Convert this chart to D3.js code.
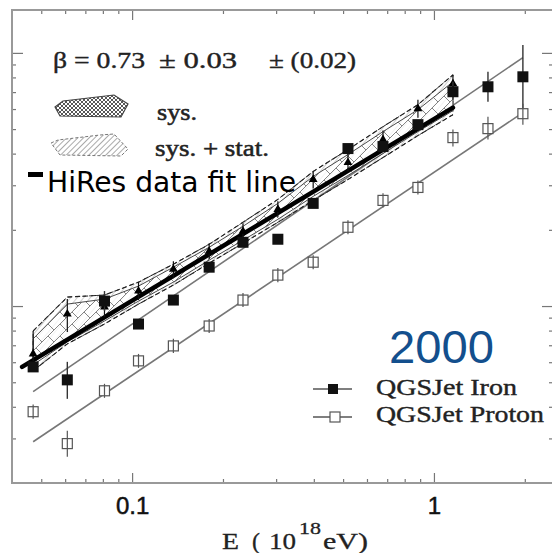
<!DOCTYPE html>
<html>
<head>
<meta charset="utf-8">
<script src="https://cdn.jsdelivr.net/npm/d3@7"></script>
<style>
body { margin: 0; background: #fff; }
svg { display: block; }
</style>
</head>
<body>
<svg id="chart"></svg>
<script>
var width = 552,
    height = 553;

// E (10^18 eV) of the simulated showers
var energy = [0.047, 0.061, 0.081, 0.105, 0.137, 0.180, 0.233, 0.304, 0.398, 0.519, 0.678, 0.885, 1.156, 1.510, 1.971];

var iron   = [0.575, 0.511, 1.046, 0.849, 1.056, 1.424, 1.786, 1.836, 2.544, 4.188, 4.266, 5.206, 7.023, 7.347, 8.045],
    ironLo = [0.575, 0.430, 0.956, 0.849, 1.056, 1.424, 1.786, 1.836, 2.544, 4.188, 4.266, 5.206, 6.531, 6.412, 6.0],
    ironHi = [0.575, 0.602, 1.146, 0.849, 1.056, 1.424, 1.786, 1.836, 2.544, 4.188, 4.266, 5.206, 7.688, 8.418, 10.75];

var proton   = [0.3825, 0.2862, 0.4627, 0.6074, 0.6959, 0.834, 1.056, 1.325, 1.490, 2.047, 2.614, 2.941, 4.628, 5.022, 5.752],
    protonLo = [0.359, 0.254, 0.434, 0.570, 0.653, 0.782, 0.991, 1.243, 1.398, 1.920, 2.452, 2.759, 4.266, 4.545, 5.206],
    protonHi = [0.408, 0.322, 0.493, 0.647, 0.742, 0.889, 1.126, 1.412, 1.588, 2.182, 2.787, 3.135, 4.977, 5.598, 6.3];

// straight fits through the model points
var lineE     = [0.047, 1.971],
    ironFit   = [0.459, 9.58],
    protonFit = [0.291, 5.81];

// HiRes data
var hiresE  = [0.047, 0.061, 0.081, 0.105, 0.137, 0.180, 0.233, 0.304, 0.398, 0.519, 0.678, 0.885, 1.156],
    hires   = [0.647, 0.930, 0.991, 1.146, 1.398, 1.646, 1.974, 2.410, 3.162, 3.689, 4.545, 6.019, 7.551],
    hiresLo = [0.607, 0.790, 0.905, 1.056, 1.289, 1.531, 1.836, 2.241, 2.915, 3.401, 4.188, 5.547, 6.897],
    hiresHi = [0.797, 1.065, 1.085, 1.243, 1.504, 1.770, 2.122, 2.591, 3.401, 4.004, 4.932, 6.531, 8.19];

var fitE = [0.0432, 1.156],
    fitV = [0.575, 6.08];

// sys + stat band and sys band
var bandHi = [0.797, 1.085, 1.105, 1.243, 1.463, 1.754, 2.142, 2.638, 3.401, 4.151, 5.112, 6.242, 8.19],
    bandLo = [0.555, 0.709, 0.849, 1.018, 1.210, 1.477, 1.770, 2.142, 2.614, 3.162, 3.861, 4.713, 5.700],
    sysHi  = [0.742, 1.018, 1.065, 1.199, 1.424, 1.707, 2.065, 2.544, 3.250, 3.967, 4.887, 5.965, 7.688],
    sysLo  = [0.586, 0.722, 0.873, 1.046, 1.243, 1.518, 1.819, 2.200, 2.711, 3.280, 4.004, 4.887, 5.911];

var xMajor = [0.1, 1],
    xMinor = [0.05, 0.06, 0.07, 0.08, 0.09, 0.2, 0.3, 0.4, 0.5, 0.6, 0.7, 0.8, 0.9, 2],
    yMajor = [1, 10],
    yMinor = [0.3, 0.4, 0.5, 0.6, 0.7, 0.8, 0.9, 2, 3, 4, 5, 6, 7, 8, 9];

var pLeft = 12, pRight = 553, pTop = 10, pBottom = 483;

var x = d3.scaleLog().domain([0.04, 2.48]).range([pLeft, pRight]),
    y = d3.scaleLog().domain([0.2, 14.77]).range([pBottom, pTop]);

var svg = d3.select("#chart").attr("width", width).attr("height", height);

var defs = svg.append("defs");
defs.append("pattern")
    .attr("id", "hatch")
    .attr("patternUnits", "userSpaceOnUse")
    .attr("width", 4).attr("height", 4)
    .attr("patternTransform", "rotate(45)")
  .append("line")
    .attr("x1", 0).attr("y1", 0).attr("x2", 0).attr("y2", 4)
    .attr("stroke", "#555").attr("stroke-width", 1);

defs.append("pattern")
    .attr("id", "hatchLight")
    .attr("patternUnits", "userSpaceOnUse")
    .attr("width", 5).attr("height", 5)
    .attr("patternTransform", "rotate(40)")
  .append("line")
    .attr("x1", 0).attr("y1", 0).attr("x2", 0).attr("y2", 5)
    .attr("stroke", "#777").attr("stroke-width", 0.7);

var cross = defs.append("pattern")
    .attr("id", "cross")
    .attr("patternUnits", "userSpaceOnUse")
    .attr("width", 4).attr("height", 4);
cross.append("path").attr("d", "M0,0L4,4M4,0L0,4")
    .attr("stroke", "#444").attr("stroke-width", 0.9);

var crossLight = defs.append("pattern")
    .attr("id", "crossLight")
    .attr("patternUnits", "userSpaceOnUse")
    .attr("width", 12).attr("height", 12);
crossLight.append("path").attr("d", "M0,12L12,0M0,0L6,6")
    .attr("stroke", "#666").attr("stroke-width", 0.8);

// ---- axes (ticks on all four sides, pointing inward)
function styleAxis(g) {
    g.select(".domain").remove();
    g.selectAll(".tick line").attr("stroke", "#777").attr("stroke-width", 1.2);
}

svg.append("g").attr("transform", "translate(0," + pBottom + ")")
    .call(d3.axisBottom(x).tickValues(xMinor).tickSize(-4).tickFormat(""))
    .call(styleAxis);
svg.append("g").attr("transform", "translate(0," + pBottom + ")")
    .call(d3.axisBottom(x).tickValues(xMajor).tickSize(-10).tickPadding(14).tickFormat(d3.format("")))
    .call(styleAxis)
    .selectAll("text")
    .attr("font-family", "Liberation Sans, Arial, sans-serif")
    .attr("font-size", 24)
    .attr("fill", "#111")
    .attr("stroke", "#111").attr("stroke-width", 0.5);
svg.append("g").attr("transform", "translate(0," + pTop + ")")
    .call(d3.axisTop(x).tickValues(xMinor).tickSize(-4).tickFormat(""))
    .call(styleAxis);
svg.append("g").attr("transform", "translate(0," + pTop + ")")
    .call(d3.axisTop(x).tickValues(xMajor).tickSize(-10).tickFormat(""))
    .call(styleAxis);
svg.append("g").attr("transform", "translate(" + pLeft + ",0)")
    .call(d3.axisLeft(y).tickValues(yMinor).tickSize(-4).tickFormat(""))
    .call(styleAxis);
svg.append("g").attr("transform", "translate(" + pLeft + ",0)")
    .call(d3.axisLeft(y).tickValues(yMajor).tickSize(-11).tickFormat(""))
    .call(styleAxis);
svg.append("g").attr("transform", "translate(" + pRight + ",0)")
    .call(d3.axisRight(y).tickValues(yMinor).tickSize(-4).tickFormat(""))
    .call(styleAxis);
svg.append("g").attr("transform", "translate(" + pRight + ",0)")
    .call(d3.axisRight(y).tickValues(yMajor).tickSize(-11).tickFormat(""))
    .call(styleAxis);

svg.append("rect")
    .attr("x", pLeft).attr("y", pTop)
    .attr("width", pRight - pLeft).attr("height", pBottom - pTop)
    .attr("fill", "none").attr("stroke", "#999").attr("stroke-width", 2);

// ---- model fit lines
var fitPath = d3.line().x(d => x(d[0])).y(d => y(d[1]));
[ironFit, protonFit].forEach(function(f) {
    svg.append("path")
        .attr("d", fitPath(d3.zip(lineE, f)))
        .attr("fill", "none").attr("stroke", "#777").attr("stroke-width", 1.6);
});

// ---- HiRes bands
var bandData = hiresE.map((e, i) => ({e: e, hi: bandHi[i], lo: bandLo[i], shi: sysHi[i], slo: sysLo[i]}));

var band = d3.area().x(d => x(d.e)).y0(d => y(d.lo)).y1(d => y(d.hi)),
    sysBand = d3.area().x(d => x(d.e)).y0(d => y(d.slo)).y1(d => y(d.shi));

svg.append("path").attr("d", band(bandData))
    .attr("fill", "url(#hatchLight)")
    .attr("stroke", "#333").attr("stroke-width", 1).attr("stroke-dasharray", "4,3");
svg.append("path").attr("d", sysBand(bandData))
    .attr("fill", "#fff").attr("fill-opacity", 0.75)
    .attr("stroke", "#333").attr("stroke-width", 0.9);
svg.append("path").attr("d", sysBand(bandData))
    .attr("fill", "url(#crossLight)")
    .attr("stroke", "none");

// upper / lower dashed envelope lines
[bandData.map(d => [d.e, d.hi]), bandData.map(d => [d.e, d.lo])].forEach(function(pts) {
    svg.append("path").attr("d", fitPath(pts))
        .attr("fill", "none").attr("stroke", "#222").attr("stroke-width", 1.1)
        .attr("stroke-dasharray", "5,3");
});

// HiRes fit line
svg.append("path")
    .attr("d", fitPath(d3.zip(fitE, fitV)))
    .attr("fill", "none").attr("stroke", "#000").attr("stroke-width", 4.5)
    .attr("stroke-linecap", "round");

// HiRes data points
hiresE.forEach(function(e, i) {
    svg.append("line")
        .attr("x1", x(e)).attr("x2", x(e))
        .attr("y1", y(hiresLo[i])).attr("y2", y(hiresHi[i]))
        .attr("stroke", "#111").attr("stroke-width", 1.2);
    svg.append("path")
        .attr("d", d3.symbol(d3.symbolTriangle, 34)())
        .attr("transform", "translate(" + x(e) + "," + y(hires[i]) + ")")
        .attr("fill", "#000");
});

// ---- iron points
energy.forEach(function(e, i) {
    svg.append("line")
        .attr("x1", x(e)).attr("x2", x(e))
        .attr("y1", y(ironLo[i])).attr("y2", y(ironHi[i]))
        .attr("stroke", "#333").attr("stroke-width", 1.4);
    svg.append("rect")
        .attr("x", x(e) - 5.5).attr("y", y(iron[i]) - 5.5)
        .attr("width", 11).attr("height", 11)
        .attr("fill", "#111");
});

// ---- proton points
energy.forEach(function(e, i) {
    svg.append("rect")
        .attr("x", x(e) - 5).attr("y", y(proton[i]) - 5)
        .attr("width", 10).attr("height", 10)
        .attr("fill", "#fff").attr("stroke", "#555").attr("stroke-width", 1.2);
    svg.append("line")
        .attr("x1", x(e)).attr("x2", x(e))
        .attr("y1", y(protonLo[i])).attr("y2", y(protonHi[i]))
        .attr("stroke", "#555").attr("stroke-width", 1.2);
});

// ---- legend (top left)
var serif = "Liberation Serif, Times New Roman, serif";

function label(txt, tx, ty, size, len, font, color, bold) {
    var c = color || "#222";
    var t = svg.append("text")
        .attr("x", tx).attr("y", ty)
        .attr("font-family", font || serif)
        .attr("font-size", size)
        .attr("fill", c)
        .text(txt);
    if (bold) t.attr("stroke", c).attr("stroke-width", bold);
    if (len) t.attr("textLength", len).attr("lengthAdjust", "spacingAndGlyphs");
    return t;
}

label("\u03b2 = 0.73", 53, 68, 24, 92, null, null, 0.4);
label("\u00b1 0.03", 159, 68, 24, 78, null, null, 0.4);
label("\u00b1 (0.02)", 269, 68, 24, 87, null, null, 0.4);

svg.append("path")
    .attr("d", "M55,107L63,101L114,95L128,104L121,117L60,116Z")
    .attr("fill", "url(#cross)").attr("stroke", "#444").attr("stroke-width", 1.2);
label("sys.", 157, 120, 23, 40, null, null, 0.5);

svg.append("path")
    .attr("d", "M51,143L58,140L100,135L114,134L128,149L121,156L60,155Z")
    .attr("fill", "url(#hatch)").attr("stroke", "#777").attr("stroke-width", 1)
    .attr("stroke-dasharray", "3,2");
label("sys. + stat.", 155, 156, 23, 114, null, null, 0.5);

svg.append("rect").attr("x", 28).attr("y", 172).attr("width", 15).attr("height", 5).attr("fill", "#000");
label("HiRes data fit line", 47, 192, 28, 249, "DejaVu Sans, sans-serif", "#000");

// ---- legend (bottom right)
label("2000", 389, 363, 47, 105, "Liberation Sans, Arial, sans-serif", "#134f8d");

svg.append("line").attr("x1", 313).attr("x2", 352).attr("y1", 389).attr("y2", 389)
    .attr("stroke", "#555").attr("stroke-width", 1.3);
svg.append("rect").attr("x", 328).attr("y", 384).attr("width", 10).attr("height", 10).attr("fill", "#111");
label("QGSJet Iron", 376, 395, 24, 141, null, null, 0.4);

svg.append("line").attr("x1", 313).attr("x2", 352).attr("y1", 417).attr("y2", 417)
    .attr("stroke", "#555").attr("stroke-width", 1.3);
svg.append("rect").attr("x", 330).attr("y", 412).attr("width", 10).attr("height", 10)
    .attr("fill", "#fff").attr("stroke", "#555").attr("stroke-width", 1.2);
label("QGSJet Proton", 376, 422, 24, 168, null, null, 0.4);

// ---- x axis title
label("E", 222, 549, 24, 17, null, null, 0.3);
label("(", 252, 549, 24, null, null, null, 0.3);
label("10", 269, 549, 24, 27, null, null, 0.3);
label("18", 299, 534, 17, 22, null, null, 0.3);
label("eV)", 323, 549, 24, 45, null, null, 0.3);
</script>
</body>
</html>
